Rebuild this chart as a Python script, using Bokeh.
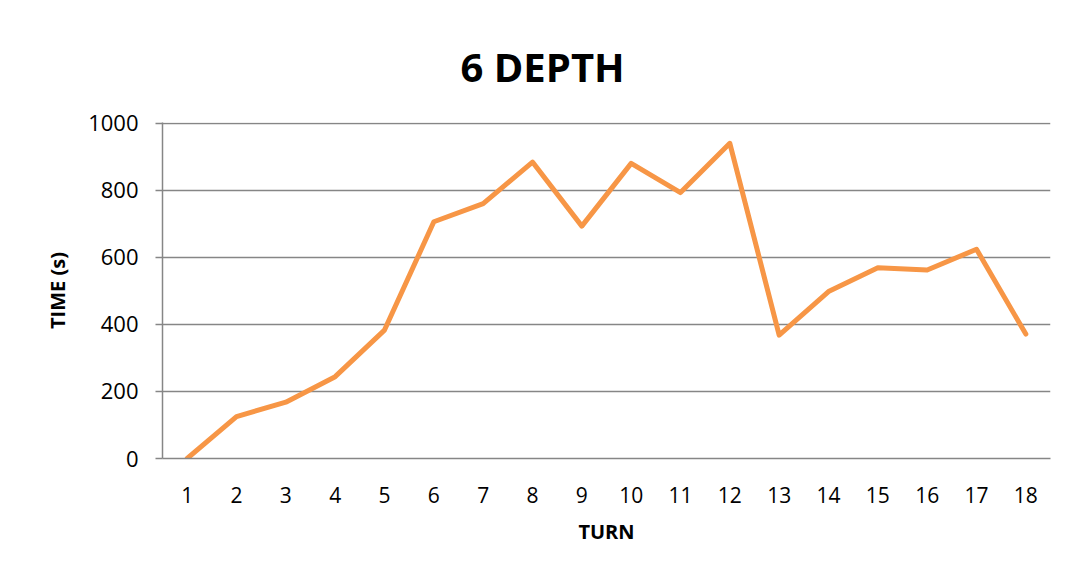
from bokeh.plotting import figure
from bokeh.models import Range1d, FixedTicker, Title
from bokeh.embed import file_html
from bokeh.resources import INLINE

turns = list(range(1, 19))
times = [0, 125, 168, 244, 383, 706, 760, 884, 693, 880, 793, 940, 368, 498, 569, 562, 624, 371]
y_ticks = [0, 200, 400, 600, 800, 1000]

FONT = "Open Sans"
GRID = "#868686"

p = figure(width=1061, height=568, output_backend="svg", toolbar_location=None,
           x_range=Range1d(0.5, 18.5), y_range=Range1d(0, 1002),
           min_border_left=162, min_border_right=11, min_border_top=122, min_border_bottom=110)

p.title = Title(text="6 DEPTH", align="left", text_font=FONT, text_font_size="40px",
                text_font_style="bold", text_color="black", offset=298, standoff=58)
p.outline_line_color = None
p.background_fill_color = "white"
p.border_fill_color = "white"

p.line(turns, times, line_color="#F79646", line_width=5, line_join="round", line_cap="round")

p.xgrid.grid_line_color = None
p.ygrid.grid_line_color = GRID
p.ygrid.grid_line_width = 1.5
p.ygrid.ticker = FixedTicker(ticks=y_ticks)

p.xaxis.ticker = FixedTicker(ticks=turns)
p.xaxis.axis_line_color = GRID
p.xaxis.axis_line_width = 1.5
p.xaxis.major_tick_line_color = None
p.xaxis.minor_tick_line_color = None
p.xaxis.major_label_text_font = FONT
p.xaxis.major_label_text_font_size = "21px"
p.xaxis.major_label_text_color = "black"
p.xaxis.major_label_standoff = 22
p.xaxis.axis_label = "TURN"
p.xaxis.axis_label_text_font = FONT
p.xaxis.axis_label_text_font_size = "20px"
p.xaxis.axis_label_text_font_style = "bold"
p.xaxis.axis_label_text_color = "black"
p.xaxis.axis_label_standoff = 12

p.yaxis.ticker = FixedTicker(ticks=y_ticks)
p.yaxis.axis_line_color = GRID
p.yaxis.axis_line_width = 1.5
p.yaxis.major_tick_line_color = GRID
p.yaxis.major_tick_line_width = 1.5
p.yaxis.major_tick_in = 0
p.yaxis.major_tick_out = 7
p.yaxis.minor_tick_line_color = None
p.yaxis.major_label_text_font = FONT
p.yaxis.major_label_text_font_size = "22px"
p.yaxis.major_label_text_color = "black"
p.yaxis.major_label_standoff = 17
p.yaxis.axis_label = "TIME (s)"
p.yaxis.axis_label_text_font = FONT
p.yaxis.axis_label_text_font_size = "20px"
p.yaxis.axis_label_text_font_style = "bold"
p.yaxis.axis_label_text_color = "black"
p.yaxis.axis_label_standoff = 14

open("out.html", "w").write(file_html(p, INLINE))
